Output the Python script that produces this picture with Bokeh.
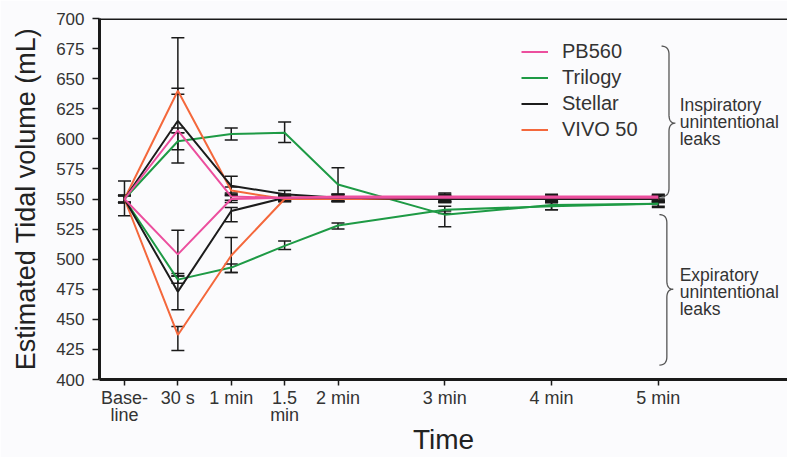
import numpy as np
from bokeh.plotting import figure
from bokeh.models import (ColumnDataSource, Whisker, TeeHead, Legend, LegendItem,
                          FixedTicker, Span, Range1d)
from bokeh.core.properties import value
from bokeh.embed import file_html
from bokeh.resources import INLINE

# ---------------- data ----------------
time_min = [0, 0.5, 1, 1.5, 2, 3, 4, 5]
tick_labels = ["Base-\nline", "30 s", "1 min", "1.5\nmin", "2 min", "3 min", "4 min", "5 min"]
y_ticks = [400, 425, 450, 475, 500, 525, 550, 575, 600, 625, 650, 675, 700]

devices = ["PB560", "Trilogy", "Stellar", "VIVO 50"]

# inspiratory unintentional leaks (upper branch)
pb560_insp = [550, 607, 552, 551, 552, 552, 552, 552]
pb560_insp_up = [3, 2, 3, 2, 2, 3, 2, 2]
pb560_insp_dn = [3, 2, 3, 2, 2, 3, 2, 2]

trilogy_insp = [550, 598, 604, 605, 562, 537, 545, 546]
trilogy_insp_up = [15, 7, 5, 9, 14, 3, 3, 3]
trilogy_insp_dn = [14, 7, 5, 8, 11, 10, 4, 3]

stellar_insp = [550, 615, 561, 554, 551, 550, 550, 550]
stellar_insp_up = [3, 69, 8, 3, 3, 3, 3, 3]
stellar_insp_dn = [3, 35, 8, 3, 3, 3, 3, 3]

vivo50_insp = [550, 640, 557, 550, 550, 550, 550, 550]
vivo50_insp_up = [3, 2, 3, 2, 2, 2, 2, 2]
vivo50_insp_dn = [3, 3, 3, 2, 2, 2, 2, 2]

# expiratory unintentional leaks (lower branch)
pb560_exp = [550, 504, 550, 551, 551, 551, 551, 551]
pb560_exp_up = [3, 20, 3, 2, 2, 3, 2, 2]
pb560_exp_dn = [3, 18, 3, 2, 2, 3, 2, 2]

trilogy_exp = [550, 483, 493, 511, 528, 541, 544, 546]
trilogy_exp_up = [3, 3, 3, 4, 2, 3, 3, 2]
trilogy_exp_dn = [3, 3, 4, 3, 3, 3, 3, 2]

stellar_exp = [550, 473, 540, 551, 551, 550, 550, 550]
stellar_exp_up = [3, 15, 3, 3, 3, 3, 3, 3]
stellar_exp_dn = [3, 15, 9, 3, 3, 3, 3, 3]

vivo50_exp = [550, 437, 503, 550, 550, 550, 550, 550]
vivo50_exp_up = [3, 7, 15, 2, 2, 2, 2, 2]
vivo50_exp_dn = [3, 13, 14, 2, 2, 2, 2, 2]

colors = {"PB560": "#ec4f9e", "Trilogy": "#1e9a45", "Stellar": "#1c1c1c", "VIVO 50": "#f4683c"}

series = {
    "PB560": [(pb560_insp, pb560_insp_up, pb560_insp_dn), (pb560_exp, pb560_exp_up, pb560_exp_dn)],
    "Trilogy": [(trilogy_insp, trilogy_insp_up, trilogy_insp_dn), (trilogy_exp, trilogy_exp_up, trilogy_exp_dn)],
    "Stellar": [(stellar_insp, stellar_insp_up, stellar_insp_dn), (stellar_exp, stellar_exp_up, stellar_exp_dn)],
    "VIVO 50": [(vivo50_insp, vivo50_insp_up, vivo50_insp_dn), (vivo50_exp, vivo50_exp_up, vivo50_exp_dn)],
}

FONT = "Liberation Sans"
TXT = "#333333"
AX = "#1a1a1a"
BG = "#fbfbfd"

p = figure(width=787, height=457, x_range=Range1d(-0.234, 6.21), y_range=Range1d(400, 700),
           output_backend="svg", toolbar_location=None,
           min_border_left=99, min_border_right=0, min_border_top=18, min_border_bottom=78)
p.background_fill_color = BG
p.border_fill_color = BG
p.outline_line_color = None
p.xgrid.visible = False
p.ygrid.visible = False

# axes
p.xaxis.ticker = FixedTicker(ticks=time_min)
p.xaxis.major_label_overrides = {t: l for t, l in zip(time_min, tick_labels)}
p.yaxis.ticker = FixedTicker(ticks=y_ticks)
for ax in (p.xaxis[0], p.yaxis[0]):
    ax.axis_line_color = AX
    ax.axis_line_width = 3
    ax.major_tick_line_color = AX
    ax.major_tick_line_width = 1.5
    ax.major_tick_in = 0
    ax.major_tick_out = 7
    ax.minor_tick_line_color = None
    ax.major_label_text_font = FONT
    ax.major_label_text_color = TXT
    ax.axis_label_text_font = FONT
    ax.axis_label_text_font_style = "normal"
    ax.axis_label_text_color = "#222222"
p.xaxis.major_tick_out = 6
p.xaxis.major_label_text_font_size = "18px"
p.xaxis.major_label_text_line_height = 0.85
p.yaxis.major_label_text_font_size = "17px"
p.xaxis.major_label_standoff = 2
p.yaxis.major_label_standoff = 8
p.xaxis.axis_label = "Time"
p.yaxis.axis_label = "Estimated Tidal volume (mL)"
p.xaxis.axis_label_text_font_size = "28px"
p.yaxis.axis_label_text_font_size = "27px"
p.xaxis.axis_label_standoff = -4
p.yaxis.axis_label_standoff = 12

p.add_layout(Span(location=700, dimension="width", line_color=AX, line_width=3))

# lines
renderers = {}
for dev in ["Trilogy", "VIVO 50", "Stellar", "PB560"]:
    for k, (vals, up, dn) in enumerate(series[dev]):
        r = p.line(time_min, vals, line_color=colors[dev], line_width=2)
        if k == 0:
            renderers[dev] = r

# error bars
for dev in ["Trilogy", "VIVO 50", "Stellar", "PB560"]:
    for vals, up, dn in series[dev]:
        v = np.array(vals, float)
        src = ColumnDataSource(dict(x=time_min, upper=v + np.array(up), lower=v - np.array(dn)))
        p.add_layout(Whisker(source=src, base="x", upper="upper", lower="lower",
                             line_color=AX, line_width=1.5,
                             upper_head=TeeHead(size=13, line_color=AX, line_width=1.5),
                             lower_head=TeeHead(size=13, line_color=AX, line_width=1.5)))

# braces
def qbez(p0, c, p1, n=20):
    t = np.linspace(0, 1, n)[:, None]
    return (1 - t) ** 2 * np.array(p0) + 2 * (1 - t) * t * np.array(c) + t ** 2 * np.array(p1)

def brace(xb, y_top, y_mid, y_bot, w_end=0.07, w_tip=0.06, dy=7):
    pts = [qbez((xb - w_end, y_top), (xb, y_top), (xb, y_top - dy)),
           qbez((xb, y_mid + dy), (xb, y_mid), (xb + w_tip, y_mid)),
           qbez((xb + w_tip, y_mid), (xb, y_mid), (xb, y_mid - dy)),
           qbez((xb, y_bot + dy), (xb, y_bot), (xb - w_end, y_bot))]
    arr = np.vstack(pts)
    return arr[:, 0], arr[:, 1]

bx, by = brace(5.10, 677, 613, 552)
p.line(bx, by, line_color="#555555", line_width=1.3)
bx, by = brace(5.08, 537, 475, 412)
p.line(bx, by, line_color="#555555", line_width=1.3)

p.text(x=[5.2, 5.2], y=[614, 473],
       text=["Inspiratory\nunintentional\nleaks", "Expiratory\nunintentional\nleaks"],
       text_font=value(FONT), text_font_size="17.5px", text_color=TXT,
       text_baseline="middle", text_align="left", text_line_height=0.85)

legend = Legend(items=[LegendItem(label=d, renderers=[renderers[d]]) for d in devices],
                location=(422, 238), padding=0, margin=0, border_line_color=None,
                background_fill_alpha=0, label_text_font=FONT, label_text_font_size="20px",
                label_text_color=TXT, glyph_width=27, glyph_height=23, label_height=23,
                label_standoff=14, spacing=3)
p.add_layout(legend)

open("out.html", "w").write(file_html(p, INLINE))
